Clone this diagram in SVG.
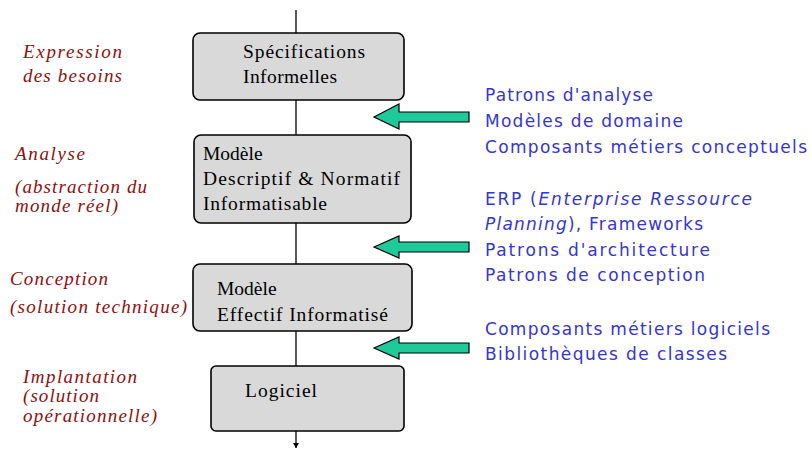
<svg xmlns="http://www.w3.org/2000/svg" width="811" height="450" viewBox="0 0 811 450">
<style>
.box{fill:#d9d9d9;stroke:#000;stroke-width:1.6}
.bt{font-family:"Liberation Serif",serif;font-size:19.5px;fill:#000}
.lt{font-family:"Liberation Serif",serif;font-style:italic;font-size:19px;fill:#8b1111}
.rt{font-family:"DejaVu Sans",sans-serif;font-size:17px;fill:#3535d0}
.ar{fill:#1fc99a;stroke:#000;stroke-width:1.2}
.cn{stroke:#000;stroke-width:1.3;fill:none}
</style>
<defs>
<marker id="ah" markerWidth="6" markerHeight="6" refX="5" refY="3" orient="auto" markerUnits="userSpaceOnUse">
<path d="M0,0 L5,3 L0,6 z" fill="#000"/>
</marker>
</defs>
<g id="connectors">
<line class="cn" x1="296" y1="10" x2="296" y2="33"/>
<line class="cn" x1="296" y1="100" x2="296" y2="135"/>
<line class="cn" x1="296" y1="223" x2="296" y2="264"/>
<line class="cn" x1="296" y1="331" x2="296" y2="366"/>
<line class="cn" x1="296" y1="431" x2="296" y2="448" marker-end="url(#ah)"/>
<polygon class="ar" points="374,117 399,104 399,112 469,112 469,122 399,122 399,129"/>
<polygon class="ar" points="374,247 399,236 399,242 469,242 469,252 399,252 399,258"/>
<polygon class="ar" points="374,348 399,337 399,343 469,343 469,353 399,353 399,359"/>
</g>
<g id="n1">
<rect class="box" x="193" y="33" width="211" height="67" rx="7"/>
<text class="bt" x="243" y="58" textLength="122">Spécifications</text>
<text class="bt" x="243" y="83" textLength="94">Informelles</text>
</g>
<g id="n2">
<rect class="box" x="194" y="135" width="217" height="88" rx="7"/>
<text class="bt" x="203" y="160">Modèle</text>
<text class="bt" x="203" y="185" textLength="197">Descriptif &amp; Normatif</text>
<text class="bt" x="203" y="210" textLength="124">Informatisable</text>
</g>
<g id="n3">
<rect class="box" x="193" y="264" width="219" height="67" rx="7"/>
<text class="bt" x="217" y="295">Modèle</text>
<text class="bt" x="217" y="321" textLength="171">Effectif Informatisé</text>
</g>
<g id="n4">
<rect class="box" x="211" y="366" width="193" height="65" rx="5"/>
<text class="bt" x="245" y="397" textLength="72">Logiciel</text>
</g>
<g id="left-labels">
<text class="lt" x="23" y="58" textLength="99">Expression</text>
<text class="lt" x="23" y="82" textLength="99">des besoins</text>
<text class="lt" x="15" y="160" textLength="70">Analyse</text>
<text class="lt" x="15" y="193" textLength="132">(abstraction du</text>
<text class="lt" x="15" y="212" textLength="103">monde réel)</text>
<text class="lt" x="10" y="285" textLength="98">Conception</text>
<text class="lt" x="10" y="313" textLength="177">(solution technique)</text>
<text class="lt" x="23" y="383" textLength="114">Implantation</text>
<text class="lt" x="23" y="402" textLength="76">(solution</text>
<text class="lt" x="23" y="422" textLength="134">opérationnelle)</text>
</g>
<g id="right-labels">
<text class="rt" x="485" y="101" textLength="168">Patrons d'analyse</text>
<text class="rt" x="485" y="127" textLength="198">Modèles de domaine</text>
<text class="rt" x="485" y="153" textLength="322">Composants métiers conceptuels</text>
<text class="rt" x="485" y="205" textLength="267">ERP (<tspan font-style="italic">Enterprise Ressource</tspan></text>
<text class="rt" x="485" y="230" textLength="218"><tspan font-style="italic">Planning</tspan>), Frameworks</text>
<text class="rt" x="485" y="256" textLength="225">Patrons d'architecture</text>
<text class="rt" x="485" y="281" textLength="220">Patrons de conception</text>
<text class="rt" x="485" y="335" textLength="285">Composants métiers logiciels</text>
<text class="rt" x="485" y="360" textLength="242">Bibliothèques de classes</text>
</g>
</svg>
